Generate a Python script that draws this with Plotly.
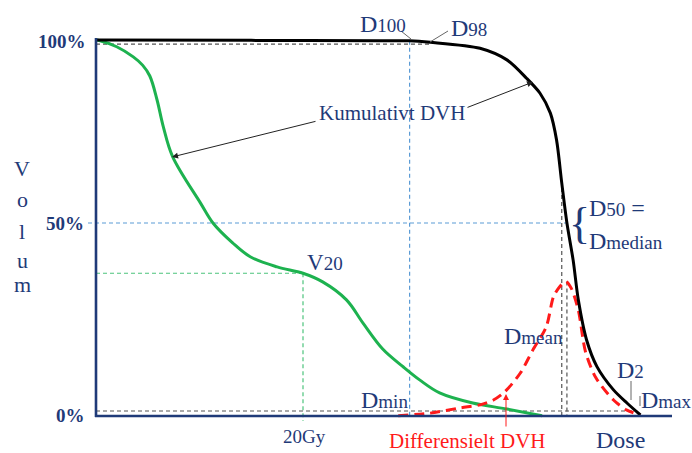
import plotly.graph_objects as go

# ---------------- data (dose in Gy, volume in %) ----------------
kum_dose = [0, 15.0, 27.4, 30.3, 32.3, 37.1, 39.7, 41.6, 42.9, 43.9, 44.5, 45.0, 45.5, 46.1, 46.6, 47.4, 48.4, 50.0, 51.3, 52.6]
kum_vol = [100, 99.9, 99.8, 99.8, 99.4, 97.8, 94.7, 89.8, 85.8, 80.5, 73.3, 61.9, 51.2, 41.3, 30.7, 20.0, 12.9, 6.7, 3.2, 0]

oar_dose = [0, 0.4, 2.0, 3.6, 4.5, 5.2, 5.9, 6.5, 7.4, 10.1, 11.3, 13.2, 14.9, 17.5, 20.0, 21.9, 24.2, 25.8, 27.7, 29.7, 31.3, 33.2, 36.4, 39.7, 43.1]
oar_vol = [100, 99.8, 98.2, 95.5, 93.3, 90.4, 84.0, 76.9, 68.9, 56.5, 51.2, 45.9, 42.2, 39.5, 37.8, 35.5, 30.7, 24.5, 17.6, 12.8, 9.3, 5.9, 3.2, 1.6, -0.2]

diff_dose = [29.2, 32.3, 35.2, 37.1, 38.4, 39.5, 41.0, 42.2, 43.5, 44.2, 44.8, 45.4, 45.9, 46.6, 47.3, 48.3, 50.0, 51.3, 52.6]
diff_vol = [-0.2, 0.5, 1.9, 2.7, 4.0, 6.2, 11.2, 17.3, 23.5, 31.5, 34.2, 35.6, 33.9, 28.0, 16.8, 9.9, 4.0, 1.3, 0]

D100 = 30.3
D98 = 32.3
V98 = 98.9
V50 = 51.2
D50 = 45.0
D50_top = 60.5
Dmean = 45.5
Dmean_top = 35.6
V20_dose = 20.0
V20 = 37.8
Dmax = 52.6
V0_line = 1.07

tick_vals = [99.7, 51.2, 0]
tick_text = ["100%", "50%", "0%"]

# ---------------- pixel helpers for placement ----------------
W, H = 692, 453
PX_GY = 10.35
PX_PCT = 3.75


def gx(px):
    return (px - 96) / PX_GY


def gy(py):
    return (415 - py) / PX_PCT


NAVY = "#1F3A78"
GREEN = "#1DB24F"
LGREEN = "#4CC47C"
BLUE = "#5B9BD5"
GRAY = "#555555"
RED = "#FF1A1A"
FONT = "Liberation Serif"

fig = go.Figure()


def ref(xs, ys, color, width=1.2, dash="4px,3px"):
    fig.add_trace(go.Scatter(x=xs, y=ys, mode="lines", hoverinfo="skip",
                             line=dict(color=color, width=width, dash=dash),
                             showlegend=False))


# reference dashed lines
ref([0, D98], [V98, V98], GRAY)
ref([D100, D100], [99.8, gy(416)], BLUE)
ref([gx(88), 45.6], [V50, V50], BLUE)
ref([0, V20_dose], [V20, V20], LGREEN)
ref([V20_dose, V20_dose], [V20, gy(421)], LGREEN)
ref([D50, D50], [D50_top, gy(416)], GRAY)
ref([Dmean, Dmean], [Dmean_top, gy(416)], GRAY)
ref([0, 52.3], [V0_line, V0_line], GRAY)

# curves
fig.add_trace(go.Scatter(x=oar_dose, y=oar_vol, mode="lines", showlegend=False,
                         line=dict(color=GREEN, width=3, shape="spline", smoothing=1.0)))
fig.add_trace(go.Scatter(x=diff_dose, y=diff_vol, mode="lines", showlegend=False,
                         line=dict(color=RED, width=3, dash="10px,6px", shape="spline", smoothing=0.8)))
fig.add_trace(go.Scatter(x=kum_dose, y=kum_vol, mode="lines", showlegend=False,
                         line=dict(color="black", width=3, shape="spline", smoothing=0.8)))

shapes = []
# axes
shapes.append(dict(type="line", xref="x", yref="y", x0=0, x1=0, y0=gy(417), y1=gy(38),
                   line=dict(color=NAVY, width=2.6)))
shapes.append(dict(type="line", xref="x", yref="y", x0=gx(95), x1=gx(672), y0=gy(416), y1=gy(416),
                   line=dict(color=NAVY, width=2.6)))
# pointer lines
for (x0, y0, x1, y1) in [(401, 31, 411, 39), (448, 31, 430, 42), (631, 381, 631, 400), (640, 396, 640, 406)]:
    shapes.append(dict(type="line", xref="x", yref="y", x0=gx(x0), y0=gy(y0), x1=gx(x1), y1=gy(y1),
                       line=dict(color="#666666", width=1)))

ann = []


def txt(s, px, py, size=20, color=NAVY, xanchor="center"):
    ann.append(dict(text=s, x=gx(px), y=gy(py), xref="x", yref="y",
                    showarrow=False, xanchor=xanchor, yanchor="middle",
                    font=dict(family=FONT, size=size, color=color)))


def sub(main, small, tail="", size=19):
    return main + '<span style="font-size:%dpx">%s</span>' % (size, small) + tail


# tick labels
tick_px = {"100%": 88, "50%": 86, "0%": 87}
for v, t in zip(tick_vals, tick_text):
    ann.append(dict(text="<b>%s</b>" % t, x=gx(tick_px[t]), y=v, xref="x", yref="y", showarrow=False,
                    xanchor="right", yanchor="middle",
                    font=dict(family=FONT, size=19, color=NAVY)))

# Volum vertical
for ch, py in zip("Volum", [168, 199, 231, 260, 284]):
    txt(ch, 22, py, size=22)

txt(sub("D", "100"), 383, 24, size=24)
txt(sub("D", "98"), 469, 28, size=24)
txt("Kumulativt DVH", 392, 113, size=21)
txt(sub("V", "20"), 325, 262, size=23)
txt("{", 579, 223, size=44)
txt(sub("D", "50", " ="), 617, 208, size=24)
txt(sub("D", "median"), 626, 241, size=24)
txt(sub("D", "mean"), 533, 336, size=24)
txt(sub("D", "2"), 630, 370, size=24)
txt(sub("D", "max", size=19), 666, 400, size=24)
txt(sub("D", "min"), 384, 400, size=24)
txt("20Gy", 304, 436, size=19)
txt("Differensielt DVH", 467, 441, size=21, color=RED)
txt("Dose", 620, 440, size=24)

# arrows
for (tx, ty, hx, hy, col) in [(317, 121, 172, 157, "#222222"), (466, 108, 533, 82, "#222222"),
                              (506, 428, 506, 394, RED)]:
    ann.append(dict(text="", x=gx(hx), y=gy(hy), ax=gx(tx), ay=gy(ty), xref="x", yref="y",
                    axref="x", ayref="y", showarrow=True, arrowhead=2, arrowsize=1.2,
                    arrowwidth=1, arrowcolor=col, standoff=0))

fig.update_layout(
    width=W, height=H, margin=dict(l=0, r=0, t=0, b=0, pad=0),
    paper_bgcolor="white", plot_bgcolor="white",
    xaxis=dict(range=[gx(0), gx(W)], visible=False, fixedrange=True),
    yaxis=dict(range=[gy(H), gy(0)], visible=False, fixedrange=True),
    shapes=shapes, annotations=ann, showlegend=False,
)

# remove the default 8px page margin so the figure fills the window exactly
fig.write_html("out.html", config={"displayModeBar": False},
               post_script="document.body.style.margin='0';document.body.style.overflow='hidden';")
